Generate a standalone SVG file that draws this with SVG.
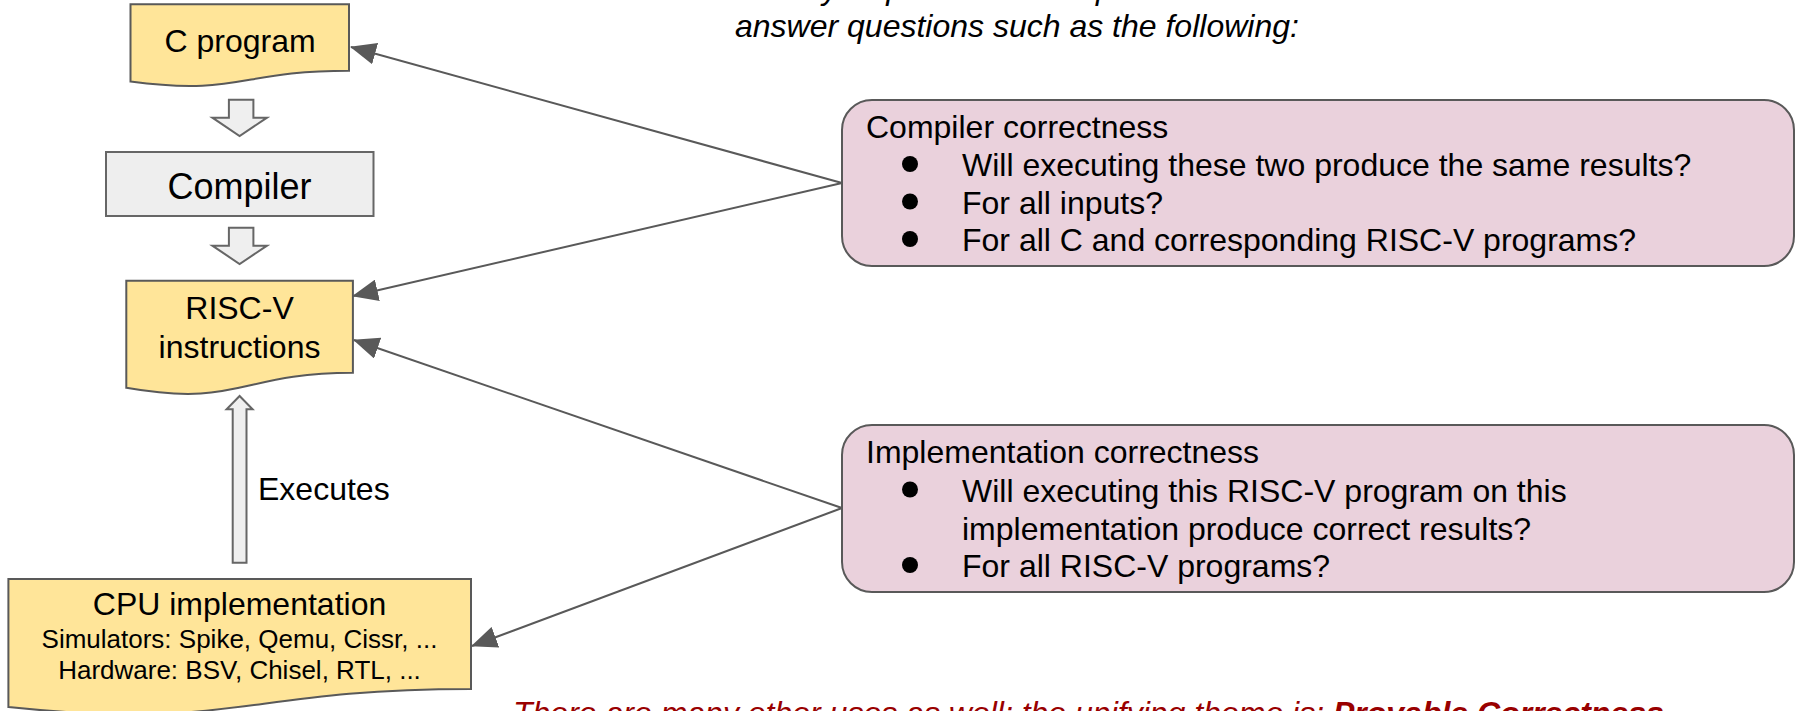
<svg xmlns="http://www.w3.org/2000/svg" width="1800" height="711" viewBox="0 0 1800 711">
<style>
text{font-family:"Liberation Sans",Arial,sans-serif;fill:#000}
.doc{fill:#ffe599;stroke:#595959;stroke-width:2}
.gray{fill:#eeeeee;stroke:#666666;stroke-width:2}
.blk{fill:#efefef;stroke:#666666;stroke-width:2}
.pink{fill:#ead1dc;stroke:#595959;stroke-width:2}
.t32{font-size:32px}
.t26{font-size:26px}
.mid{text-anchor:middle}
.conn line{stroke:#595959;stroke-width:2;fill:none;marker-end:url(#ah)}
.bul{fill:#000}
.note{font-size:32px;font-style:italic;fill:#990000}
</style>
<defs>
<marker id="ah" markerUnits="userSpaceOnUse" markerWidth="26" markerHeight="22" viewBox="0 0 26 22" refX="25" refY="11" orient="auto">
<path d="M0,0 L26,11 L0,22 Z" fill="#595959"/>
</marker>
</defs>
<rect width="1800" height="711" fill="#fff"/>

<g id="intro">
<text class="t32" x="735" y="-1" font-style="italic">as they require a formal specification to be able to</text>
<text class="t32" x="735" y="37" font-style="italic">answer questions such as the following:</text>
</g>

<g id="cprogram">
<path class="doc" d="M130.5,4.3 H349 V70.7 C239.75,70.7 239.75,96 130.5,81.6 Z"/>
<text class="t32 mid" x="240" y="52">C program</text>
</g>

<g id="arrow1">
<polygon class="blk" points="228.9,99.7 253.4,99.7 253.4,117.7 267,117.7 239.6,136 212.4,117.7 228.9,117.7"/>
</g>

<g id="compiler">
<rect class="gray" x="106" y="152" width="267.5" height="64"/>
<text class="mid" font-size="36" x="239.5" y="199">Compiler</text>
</g>

<g id="arrow2">
<polygon class="blk" points="228.9,227.7 253.4,227.7 253.4,245.7 267,245.7 239.6,264 212.4,245.7 228.9,245.7"/>
</g>

<g id="riscv">
<path class="doc" d="M126.3,280.7 H352.9 V372.7 C239.6,372.7 239.6,407.7 126.3,387.8 Z"/>
<text class="t32 mid" x="239.5" y="319">RISC-V</text>
<text class="t32 mid" x="239.5" y="358">instructions</text>
</g>

<g id="executes">
<polygon class="blk" points="232.7,562.7 246.5,562.7 246.5,409.3 252.6,409.3 239.6,396 226.6,409.3 232.7,409.3"/>
<text class="t32" x="258" y="500">Executes</text>
</g>

<g id="cpu">
<path class="doc" d="M8.4,579 H471 V689 C239.7,689 239.7,730.9 8.4,707.1 Z"/>
<text class="t32 mid" x="239.5" y="615">CPU implementation</text>
<text class="t26 mid" x="239.5" y="648">Simulators: Spike, Qemu, Cissr, ...</text>
<text class="t26 mid" x="239.5" y="679">Hardware: BSV, Chisel, RTL, ...</text>
</g>

<g id="compiler-correctness">
<rect class="pink" x="842" y="100" width="952" height="166" rx="30" ry="30"/>
<text class="t32" x="866" y="138">Compiler correctness</text>
<circle class="bul" cx="910" cy="164" r="8"/>
<text class="t32" x="962" y="176">Will executing these two produce the same results?</text>
<circle class="bul" cx="910" cy="201.5" r="8"/>
<text class="t32" x="962" y="213.5">For all inputs?</text>
<circle class="bul" cx="910" cy="239" r="8"/>
<text class="t32" x="962" y="251">For all C and corresponding RISC-V programs?</text>
</g>

<g id="implementation-correctness">
<rect class="pink" x="842" y="425" width="952" height="167" rx="30" ry="30"/>
<text class="t32" x="866" y="463">Implementation correctness</text>
<circle class="bul" cx="910" cy="489.5" r="8"/>
<text class="t32" x="962" y="501.5">Will executing this RISC-V program on this</text>
<text class="t32" x="962" y="539.5">implementation produce correct results?</text>
<circle class="bul" cx="910" cy="565" r="8"/>
<text class="t32" x="962" y="577">For all RISC-V programs?</text>
</g>

<g id="connectors" class="conn">
<line x1="842" y1="183" x2="351" y2="47"/>
<line x1="842" y1="183" x2="353" y2="296"/>
<line x1="842" y1="508" x2="354" y2="340"/>
<line x1="842" y1="508" x2="472" y2="646"/>
</g>

<g id="note">
<text class="note" x="513" y="724">There are many other uses as well; the unifying theme is: <tspan font-weight="bold">Provable Correctness</tspan></text>
</g>
</svg>
